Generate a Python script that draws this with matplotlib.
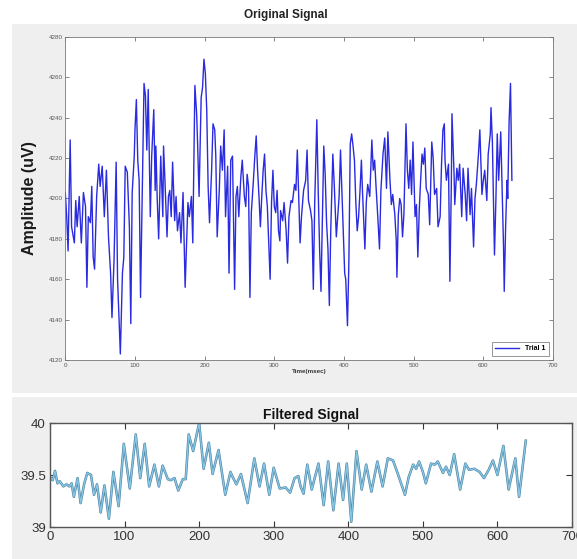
import numpy as np
import matplotlib
matplotlib.use("Agg")
import matplotlib.pyplot as plt
import matplotlib.patheffects as pe
from matplotlib.patches import Rectangle

plt.rcParams['font.family'] = ['Liberation Sans', 'DejaVu Sans']

# Original signal (time in msec, amplitude in uV)
t_raw = [0, 2, 4, 7, 9, 13, 15, 17, 20, 23, 26, 29, 31, 33, 36, 38, 40, 42, 45, 48,
         50, 53, 56, 59, 62, 65, 67, 70, 73, 75, 79, 82, 84, 86, 89, 92, 94, 96, 99, 100,
         102, 104, 106, 108, 111, 113, 115, 117, 119, 122, 124, 127, 129, 130, 132, 134, 137, 140, 141, 143,
         146, 148, 150, 152, 154, 157, 159, 161, 164, 166, 169, 172, 176, 178, 181, 183,
         186, 188.5, 190, 192, 195, 197, 199, 201, 203, 205, 207, 210, 212, 214.5, 216, 218, 221, 223, 225.5, 228,
         230, 233, 235, 237.5, 240, 241, 243, 245, 247, 249, 252, 254, 257, 259, 261, 263, 265, 267, 270, 272,
         274, 276, 278, 280, 282, 284, 286, 288, 290, 292, 294, 296, 298, 300, 302, 304, 306, 308, 309, 312,
         314, 317, 319, 321, 324, 326, 329, 331, 333, 335, 337, 339, 342, 345, 347, 349, 352, 354, 356, 358,
         361, 363, 365, 367, 369, 371, 373, 375, 377, 379, 381, 384, 386, 389, 391, 393, 395, 397, 399, 401,
         402.5, 405, 407, 409, 411, 413, 415, 417, 419, 421, 423, 425, 426.5, 428, 430, 432, 434, 437, 440, 442,
         444, 446, 448.5, 451, 453,
         456, 458.5, 461, 463, 466, 468, 470, 473, 475, 476, 478, 480, 482, 484, 486, 489, 491, 493, 495, 497,
         499, 502, 504, 506, 508, 510, 512, 514, 516, 518, 521, 523, 526, 528, 530, 533, 535, 538, 540, 542,
         544, 545, 547, 550, 552, 554, 555, 558, 559, 562, 564, 566, 569, 571, 574, 576, 578, 581, 583, 586,
         588, 590, 593, 595, 598, 600, 602, 605, 607, 610, 611, 613, 614, 616, 618, 620, 622, 624, 625, 627,
         629, 630, 632, 634, 635, 637, 639, 641]
amp_raw = [4203, 4191, 4174, 4229, 4186, 4178, 4199, 4186, 4201, 4178, 4203, 4196, 4156, 4191, 4188, 4206, 4171, 4165, 4201, 4217,
           4206, 4216, 4191, 4214, 4181, 4163, 4141, 4170, 4218, 4160, 4123, 4163, 4171, 4216, 4213, 4186, 4138, 4203, 4221, 4234,
           4249, 4219, 4209, 4151, 4216, 4257, 4251, 4224, 4254, 4191, 4221, 4244, 4204, 4226, 4199, 4180, 4221, 4191, 4226, 4209,
           4181, 4201, 4204, 4191, 4218, 4189, 4201, 4184, 4193, 4178, 4203, 4156, 4198, 4191, 4201, 4178,
           4256, 4242, 4226, 4201, 4250, 4255, 4269, 4262, 4244, 4206, 4188, 4214, 4237, 4234, 4221, 4181, 4204, 4226, 4214, 4234,
           4191, 4216, 4163, 4219, 4221, 4198, 4155, 4201, 4206, 4191, 4211, 4219, 4201, 4196, 4212, 4206, 4151, 4193, 4209, 4221,
           4231, 4214, 4201, 4186, 4201, 4214, 4222, 4204, 4196, 4178, 4160, 4198, 4214, 4196, 4193, 4204, 4184, 4179, 4194, 4189,
           4198, 4184, 4168, 4191, 4199, 4198, 4207, 4204, 4224, 4201, 4178, 4191, 4204, 4209, 4224, 4199, 4194, 4189, 4155, 4198,
           4239, 4204, 4175, 4154, 4191, 4226, 4212, 4188, 4175, 4147, 4184, 4222, 4207, 4181, 4191, 4201, 4224, 4204, 4184, 4163,
           4160, 4137, 4168, 4227, 4232, 4226, 4219, 4198, 4184, 4191, 4204, 4219, 4204, 4191, 4175, 4198, 4207, 4201, 4229, 4214,
           4219, 4206, 4191, 4175, 4204,
           4222, 4230, 4205, 4233, 4209, 4197, 4202, 4192, 4179, 4161, 4192, 4200, 4197, 4181, 4192, 4237, 4214, 4205, 4219, 4202,
           4228, 4191, 4197, 4171, 4194, 4209, 4222, 4217, 4225, 4205, 4202, 4187, 4228, 4220, 4202, 4205, 4186, 4191, 4217, 4234,
           4237, 4219, 4209, 4217, 4159, 4205, 4242, 4212, 4197, 4215, 4209, 4217, 4191, 4215, 4202, 4189, 4215, 4192, 4205, 4176,
           4200, 4207, 4222, 4234, 4202, 4209, 4214, 4199, 4222, 4232, 4245, 4228, 4209, 4172, 4199, 4232, 4209, 4225, 4233, 4205,
           4176, 4154, 4186, 4209, 4200, 4238, 4257, 4209]

# Filtered signal
t_filt = [0, 3.6, 6.7, 10, 13, 18, 22, 26, 29, 32, 37, 41, 46, 50, 55, 59, 63, 68, 73, 79,
          85, 92, 99, 107, 115, 121, 127, 133, 140, 146, 151, 158, 162, 167, 172, 178, 182, 186, 192, 200,
          206, 213, 218, 226, 235, 242, 245, 250, 256, 265, 274, 281, 287, 294, 300, 308, 316, 322, 328, 333,
          336, 340, 345, 351, 360, 367, 373, 380, 387, 393, 398, 404, 411, 418, 424, 431, 439, 446, 453, 460,
          466, 476, 481, 487, 491, 495, 500, 504, 511, 516, 520, 527, 531, 536, 542, 550, 557, 562, 569, 576,
          582, 589, 594, 600, 608, 615, 624, 629, 638]
amp_filt = [39.48, 39.45, 39.54, 39.42, 39.44, 39.39, 39.41, 39.39, 39.42, 39.29, 39.47, 39.23, 39.42, 39.52, 39.50, 39.31, 39.41, 39.14, 39.40, 39.08,
            39.53, 39.20, 39.80, 39.37, 39.89, 39.47, 39.80, 39.39, 39.60, 39.39, 39.59, 39.46, 39.45, 39.47, 39.35, 39.46, 39.46, 39.89, 39.73, 40.00,
            39.56, 39.81, 39.51, 39.74, 39.31, 39.53, 39.48, 39.41, 39.51, 39.23, 39.66, 39.39, 39.61, 39.31, 39.57, 39.37, 39.38, 39.33, 39.47, 39.49,
            39.39, 39.32, 39.60, 39.36, 39.61, 39.21, 39.63, 39.16, 39.61, 39.26, 39.61, 39.05, 39.73, 39.36, 39.60, 39.34, 39.63, 39.39, 39.66, 39.64,
            39.52, 39.31, 39.48, 39.60, 39.56, 39.63, 39.53, 39.42, 39.61, 39.60, 39.63, 39.52, 39.58, 39.50, 39.70, 39.36, 39.61, 39.55, 39.56, 39.53,
            39.47, 39.56, 39.64, 39.50, 39.78, 39.36, 39.66, 39.29, 39.83]

W, H = 577, 559
fig = plt.figure(figsize=(W / 100, H / 100), dpi=100, facecolor='white')

# gray figure backgrounds (two stacked MATLAB windows)
fig.add_artist(Rectangle((12 / W, 1 - 393 / H), 1, (393 - 24) / H, transform=fig.transFigure,
                         facecolor='#efefef', edgecolor='none', zorder=-10))
fig.add_artist(Rectangle((12 / W, 0), 1, 1 - 397 / H, transform=fig.transFigure,
                         facecolor='#efefef', edgecolor='none', zorder=-10))

# --- top: original signal
ax1 = fig.add_axes([65.3 / W, 1 - 360 / H, 487.7 / W, 323 / H])
ax1.plot(t_raw, amp_raw, color='#2a2ae0', lw=1.0, label='Trial 1')
ax1.set_xlim(0, 700)
ax1.set_ylim(4120, 4280)
ax1.set_xticks(np.arange(0, 701, 100))
ax1.set_yticks(np.arange(4120, 4281, 20))
ax1.tick_params(direction='in', length=3, width=0.5, labelsize=4.5, colors='#555555',
                top=True, right=True, pad=2)
for s in ax1.spines.values():
    s.set_color('#777777')
    s.set_linewidth(0.6)
ax1.set_ylabel('Amplitude (uV)', fontsize=11.5, fontweight='bold', color='#1a1a1a', labelpad=8)
ax1.set_xlabel('Time(msec)', fontsize=4.5, fontweight='bold', color='#333333', labelpad=1)
fig.text(286 / W, 1 - 15 / H, 'Original Signal', ha='center', va='center',
         fontsize=8.5, fontweight='bold', color='#222222')
leg = ax1.legend(loc='lower right', prop={'weight': 'bold', 'size': 5},
                 handlelength=3.5, fancybox=False, borderpad=0.5, borderaxespad=0.6)
leg.get_frame().set_edgecolor('#666666')
leg.get_frame().set_linewidth(0.6)

# --- bottom: filtered signal
ax2 = fig.add_axes([50 / W, 1 - 527 / H, 522 / W, 104 / H])
ax2.plot(t_filt, amp_filt, color='#86c6e6', lw=1.0, solid_joinstyle='round',
         path_effects=[pe.Stroke(linewidth=1.8, foreground='#4a7f9c'), pe.Normal()])
ax2.set_xlim(0, 700)
ax2.set_ylim(39, 40)
ax2.set_xticks(np.arange(0, 701, 100))
ax2.set_yticks([39, 39.5, 40])
ax2.set_yticklabels(['39', '39.5', '40'])
ax2.tick_params(direction='in', length=4, width=0.8, labelsize=9.5, colors='#333333',
                top=True, right=True, pad=3)
for s in ax2.spines.values():
    s.set_color('#555555')
    s.set_linewidth(1.0)
ax2.set_title('Filtered Signal', fontsize=10, fontweight='bold', color='#111111', pad=3)

fig.savefig('out.png', dpi=100, facecolor='white')
